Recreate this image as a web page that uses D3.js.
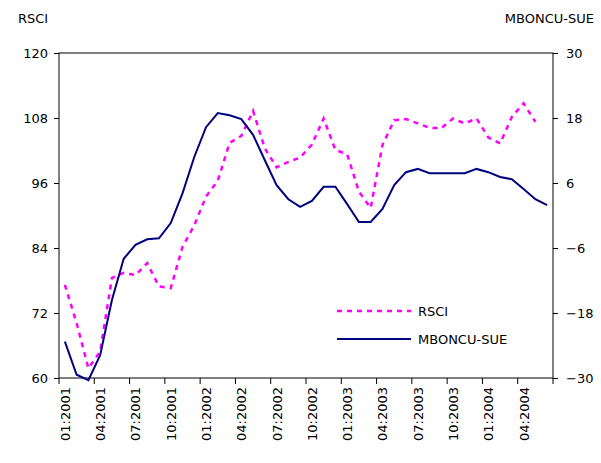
<!DOCTYPE html>
<html>
<head>
<meta charset="utf-8">
<script src="https://cdn.jsdelivr.net/npm/d3@7"></script>
<style>
  body { margin: 0; background: #fff; }
  text { font-family: "DejaVu Sans", sans-serif; font-size: 12px; fill: #000; }
</style>
</head>
<body>
<div id="chart"></div>
<script>
// months Jan 2001 - Jun 2004
var months = [];
for (var y = 2001; y <= 2004; y++) {
  for (var m = 1; m <= 12; m++) {
    if (y === 2004 && m > 6) break;
    months.push((m < 10 ? "0" + m : "" + m) + ":" + y);
  }
}

var rsci = [77.2, 70.1, 61.8, 64.9, 78.5, 79.4, 79.0, 81.2, 76.9, 76.6,
  84.2, 88.2, 93.5, 96.4, 103.4, 104.7, 109.3, 102.4, 98.9, 99.9,
  100.7, 103.1, 107.9, 102.1, 101.3, 94.4, 91.4, 103.0, 107.6, 107.8,
  107.0, 106.2, 106.1, 107.9, 107.0, 107.9, 104.4, 103.3, 108.2, 110.7,
  107.3, null];

var mboncu = [-23.3, -29.4, -30.4, -25.8, -15.6, -8.0, -5.4, -4.4, -4.2, -1.4,
  4.1, 10.8, 16.3, 18.9, 18.5, 17.8, 14.9, 10.2, 5.6, 3.0,
  1.6, 2.7, 5.3, 5.3, 2.1, -1.2, -1.2, 1.2, 5.6, 8.0,
  8.6, 7.8, 7.8, 7.8, 7.8, 8.6, 8.0, 7.1, 6.7, 4.9,
  3.0, 1.9];

var leftTicks = [60, 72, 84, 96, 108, 120];
var rightTicks = [-30, -18, -6, 6, 18, 30];

var svgWidth = 601, svgHeight = 463;
var margin = { top: 53, left: 59, right: 48, bottom: 85 };
var chartWidth = svgWidth - margin.left - margin.right;
var chartHeight = svgHeight - margin.top - margin.bottom;

var svg = d3.select("#chart").append("svg")
  .attr("width", svgWidth).attr("height", svgHeight);

var g = svg.append("g")
  .attr("transform", "translate(" + margin.left + "," + margin.top + ")");

var xScale = d3.scaleBand().domain(months).range([0, chartWidth]);
var yLeft = d3.scaleLinear().domain([60, 120]).range([chartHeight, 0]);
var yRight = d3.scaleLinear().domain([-30, 30]).range([chartHeight, 0]);
var cx = function(i) { return xScale(months[i]) + xScale.bandwidth() / 2; };

// frame
g.append("rect").attr("width", chartWidth).attr("height", chartHeight)
  .attr("fill", "none").attr("stroke", "#000").attr("stroke-width", 1);

// left axis
g.append("g")
  .call(d3.axisLeft(yLeft).tickValues(leftTicks).tickSize(5).tickPadding(6))
  .call(function(a) { a.select(".domain").remove(); a.selectAll("text").style("font-size", "13px"); });

// right axis
g.append("g").attr("transform", "translate(" + chartWidth + ",0)")
  .call(d3.axisRight(yRight).tickValues(rightTicks).tickSize(5).tickPadding(8))
  .call(function(a) { a.select(".domain").remove(); a.selectAll("text").style("font-size", "13px"); });

// x ticks at every 3rd band boundary
var bounds = d3.range(0, months.length + 1, 3);
g.selectAll(".xtick").data(bounds).enter().append("line")
  .attr("x1", function(d) { return d * xScale.step(); })
  .attr("x2", function(d) { return d * xScale.step(); })
  .attr("y1", chartHeight).attr("y2", chartHeight + 6)
  .attr("stroke", "#000");

g.selectAll(".xlab").data(months.filter(function(d, i) { return i % 3 === 0; }))
  .enter().append("text")
  .attr("transform", function(d) {
    return "translate(" + (xScale(d) + xScale.bandwidth() / 2 + 5) + "," + (chartHeight + 9) + ") rotate(-90)";
  })
  .attr("text-anchor", "end")
  .style("font-size", "13px")
  .text(function(d) { return d; });

// axis titles
svg.append("text").attr("x", 18).attr("y", 23).style("font-size", "13px").text("RSCI");
svg.append("text").attr("x", 594).attr("y", 23).attr("text-anchor", "end").style("font-size", "13px").text("MBONCU-SUE");

// lines
var lineR = d3.line()
  .defined(function(d) { return d !== null; })
  .x(function(d, i) { return cx(i); })
  .y(function(d) { return yLeft(d); });
var lineM = d3.line()
  .x(function(d, i) { return cx(i); })
  .y(function(d) { return yRight(d); });

g.append("path").datum(rsci).attr("d", lineR)
  .attr("fill", "none").attr("stroke", "#ff00ff")
  .attr("stroke-width", 2.5).attr("stroke-dasharray", "5,5");
g.append("path").datum(mboncu).attr("d", lineM)
  .attr("fill", "none").attr("stroke", "#000080").attr("stroke-width", 2);

// legend
var legend = svg.append("g");
legend.append("line").attr("x1", 337).attr("x2", 411).attr("y1", 311).attr("y2", 311)
  .attr("stroke", "#ff00ff").attr("stroke-width", 2.5).attr("stroke-dasharray", "5,5");
legend.append("text").attr("x", 418).attr("y", 316).style("font-size", "13px").text("RSCI");
legend.append("line").attr("x1", 337).attr("x2", 411).attr("y1", 339).attr("y2", 339)
  .attr("stroke", "#000080").attr("stroke-width", 2);
legend.append("text").attr("x", 418).attr("y", 344).style("font-size", "13px").text("MBONCU-SUE");
</script>
</body>
</html>
